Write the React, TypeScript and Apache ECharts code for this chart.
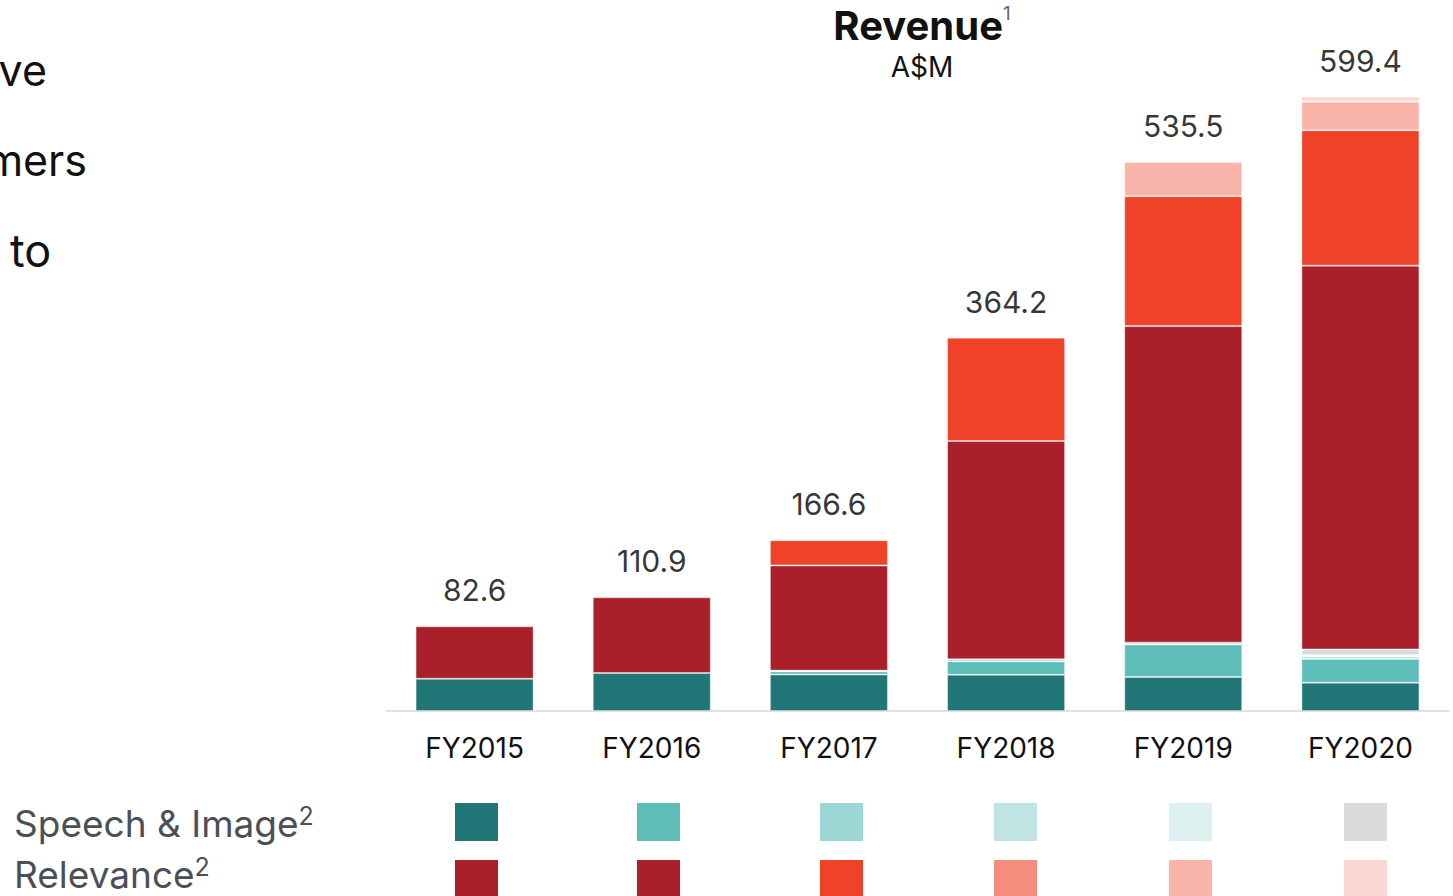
import React, { useEffect, useRef } from 'react';
import * as echarts from 'echarts';

const categories = ['FY2015', 'FY2016', 'FY2017', 'FY2018', 'FY2019', 'FY2020'];
const totals = [82.6, 110.9, 166.6, 364.2, 535.5, 599.4];

// Speech & Image cohorts
const siCohort1 = [31.4, 37.0, 35.6, 35.3, 33.2, 27.6];
const siCohort2 = [0, 0, 3.0, 13.1, 31.6, 23.1];
const siCohort3 = [0, 0, 0.8, 2.0, 1.9, 2.2];
const siCohort5 = [0, 0, 0, 0, 0, 1.6];
const siCohort6 = [0, 0, 0, 0, 0, 5.6];
// Relevance cohorts
const relCohort1 = [51.2, 73.9, 102.6, 213.0, 308.8, 374.4];
const relCohort3 = [0, 0, 24.6, 100.8, 126.8, 132.0];
const relCohort5 = [0, 0, 0, 0, 33.2, 28.0];
const relCohort6 = [0, 0, 0, 0, 0, 4.9];

const siColors = ['#217777', '#5EBDB8', '#9DD7D5', '#BFE4E3', '#DCF0EF', '#DADBDD'];
const relColors = ['#A9202B', '#A9202B', '#F04228', '#F48D7D', '#F9B4AA', '#FBD8D5'];

const leftWords = ['ve', 'mers', 'to'];

const FONT = 'Inter, "Noto Sans", sans-serif';
const swatchX = [455, 637, 820, 994, 1169, 1344];

export default function App() {
  const ref = useRef<HTMLDivElement>(null);
  useEffect(() => {
    document.body.style.margin = '0';
    const chart = echarts.init(ref.current!, null, { renderer: 'svg' });
    const mk = (name: string, data: number[], color: string) => ({
      name,
      type: 'bar',
      stack: 'rev',
      barWidth: 118,
      data: data.map((v) => (v === 0 ? '-' : v)),
      itemStyle: { color, borderColor: 'rgba(255,255,255,0.35)', borderWidth: 1 },
      emphasis: { disabled: true },
    });
    const graphic: any[] = [
      {
        type: 'text',
        x: 922,
        y: 25,
        style: {
          text: '{t|Revenue}{s|1}',
          align: 'center',
          verticalAlign: 'middle',
          rich: {
            t: { fontSize: 40, fontWeight: 'bold', fontFamily: FONT, fill: '#111', lineHeight: 42 },
            s: { fontSize: 19, fontFamily: FONT, fill: '#666', lineHeight: 24, verticalAlign: 'top' },
          },
        },
      },
      {
        type: 'text',
        x: 922,
        y: 67,
        style: { text: 'A$M', align: 'center', verticalAlign: 'middle', fontSize: 28, fontFamily: FONT, fill: '#111' },
      },
      { type: 'text', x: 47, y: 70, style: { text: leftWords[0], align: 'right', verticalAlign: 'middle', fontSize: 43, fontFamily: FONT, fill: '#111' } },
      { type: 'text', x: 87, y: 160, style: { text: leftWords[1], align: 'right', verticalAlign: 'middle', fontSize: 43, fontFamily: FONT, fill: '#111' } },
      { type: 'text', x: 10, y: 250, style: { text: leftWords[2], align: 'left', verticalAlign: 'middle', fontSize: 45, fontFamily: FONT, fill: '#111' } },
      {
        type: 'text',
        x: 14,
        y: 823,
        style: {
          text: '{t|Speech & Image}{s|2}',
          align: 'left',
          verticalAlign: 'middle',
          rich: {
            t: { fontSize: 37, fontFamily: FONT, fill: '#4B5056', lineHeight: 40 },
            s: { fontSize: 25, fontFamily: FONT, fill: '#4B5056', lineHeight: 28, verticalAlign: 'top' },
          },
        },
      },
      {
        type: 'text',
        x: 14,
        y: 874,
        style: {
          text: '{t|Relevance}{s|2}',
          align: 'left',
          verticalAlign: 'middle',
          rich: {
            t: { fontSize: 37, fontFamily: FONT, fill: '#4B5056', lineHeight: 40 },
            s: { fontSize: 25, fontFamily: FONT, fill: '#4B5056', lineHeight: 28, verticalAlign: 'top' },
          },
        },
      },
    ];
    swatchX.forEach((x, i) => {
      graphic.push({ type: 'rect', shape: { x, y: 803, width: 43, height: 38 }, style: { fill: siColors[i] } });
      graphic.push({ type: 'rect', shape: { x, y: 860, width: 43, height: 38 }, style: { fill: relColors[i] } });
    });

    chart.setOption({
      animation: false,
      textStyle: { fontFamily: FONT },
      grid: { left: 386, right: 4, top: 96, bottom: 185 },
      xAxis: {
        type: 'category',
        data: categories,
        axisLine: { lineStyle: { color: '#E2E2E2', width: 2 } },
        axisTick: { show: false },
        axisLabel: { fontSize: 28, color: '#111', margin: 23, fontFamily: FONT },
      },
      yAxis: { type: 'value', min: 0, max: 600, show: false, splitLine: { show: false } },
      series: [
        mk('Speech & Image FY2015', siCohort1, siColors[0]),
        mk('Speech & Image FY2016', siCohort2, siColors[1]),
        mk('Speech & Image FY2017', siCohort3, siColors[2]),
        mk('Speech & Image FY2019', siCohort5, siColors[4]),
        mk('Speech & Image FY2020', siCohort6, siColors[5]),
        mk('Relevance FY2015', relCohort1, relColors[0]),
        mk('Relevance FY2017', relCohort3, relColors[2]),
        mk('Relevance FY2019', relCohort5, relColors[4]),
        mk('Relevance FY2020', relCohort6, relColors[5]),
        {
          name: 'Total',
          type: 'scatter',
          symbolSize: 0,
          data: totals,
          label: {
            show: true,
            position: 'top',
            distance: 21,
            fontSize: 30,
            color: '#000',
            fontFamily: FONT,
            formatter: (p: any) => Number(p.value).toFixed(1),
          },
          emphasis: { disabled: true },
          z: 10,
        },
      ],
      graphic,
    });
    return () => chart.dispose();
  }, []);
  return <div ref={ref} style={{ width: 1453, height: 896 }} />;
}
